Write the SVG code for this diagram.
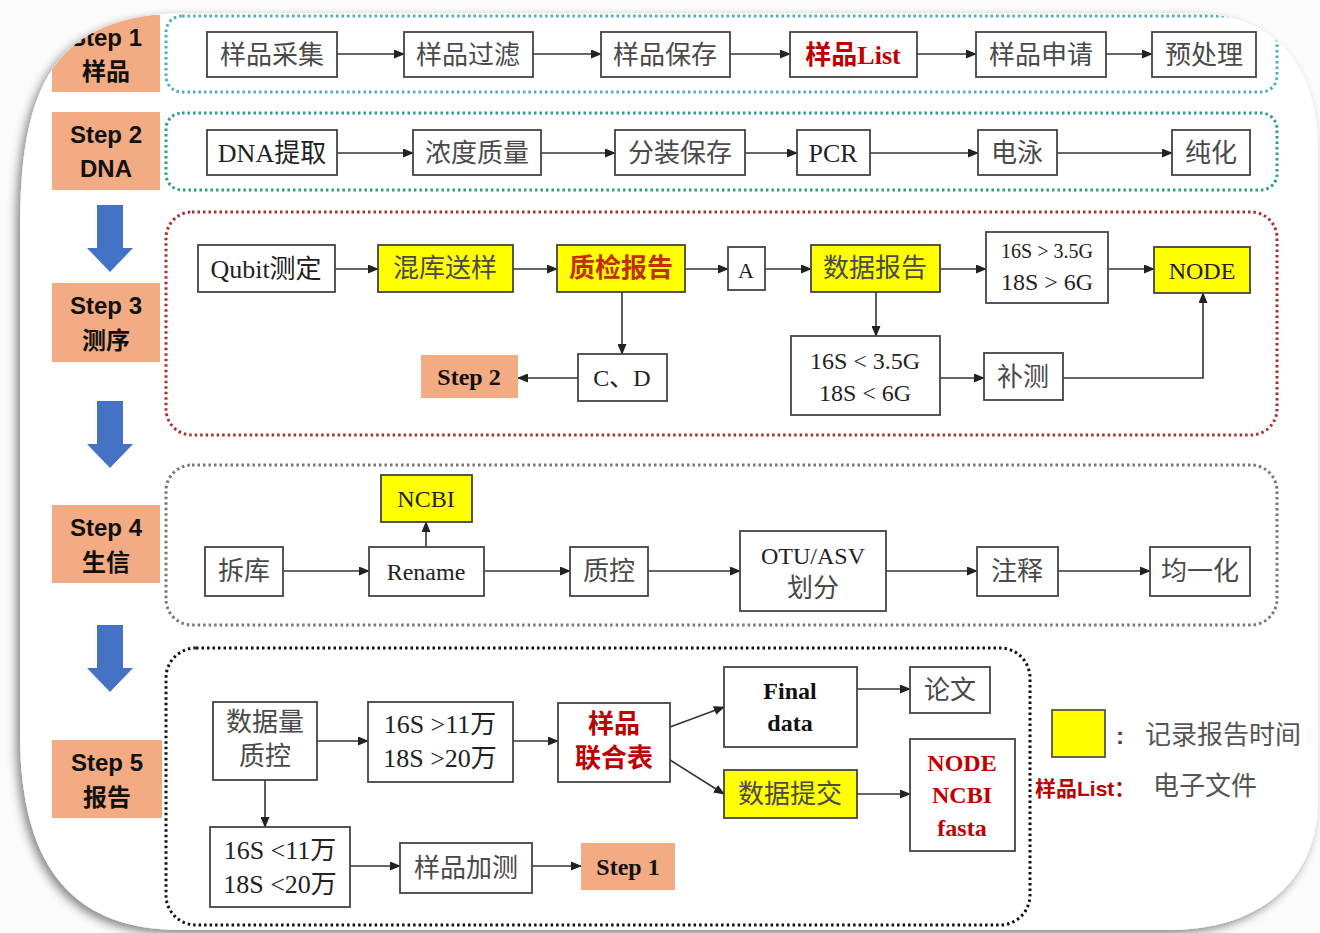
<svg xmlns="http://www.w3.org/2000/svg" width="1320" height="933" viewBox="0 0 1320 933">
<defs>
<style>
.bx{fill:#fff;stroke:#444;stroke-width:1.8}
.yl{fill:#ffff00;stroke:#444;stroke-width:1.8}
.og{fill:#f2ab83}
.t{font-family:"Liberation Serif","Noto Sans CJK SC",serif;font-size:26px;fill:#4a4a4a;text-anchor:middle}
.tl{font-family:"Liberation Serif","Noto Sans CJK SC",serif;font-size:26px;fill:#222;text-anchor:middle}
.tr{font-family:"Liberation Serif","Noto Sans CJK SC",serif;font-size:26px;fill:#c00000;font-weight:bold;text-anchor:middle}
.tb{font-family:"Liberation Serif","Noto Sans CJK SC",serif;font-size:24px;fill:#111;font-weight:bold;text-anchor:middle}
.st{font-family:"Liberation Sans","Noto Sans CJK SC",sans-serif;font-size:24px;fill:#111;font-weight:bold;text-anchor:middle}
.ln{fill:none;stroke:#333;stroke-width:1.6;marker-end:url(#ah)}
.cont{fill:none;stroke-width:3;stroke-dasharray:2.5 3}
.blue{fill:#4472c4}
</style>
<marker id="ah" markerUnits="userSpaceOnUse" markerWidth="11" markerHeight="9" refX="10" refY="4.5" orient="auto">
<path d="M0,0 L11,4.5 L0,9 z" fill="#222"/>
</marker>
<filter id="sh" x="-5%" y="-5%" width="110%" height="110%">
<feDropShadow dx="-4" dy="4" stdDeviation="5" flood-color="#000" flood-opacity="0.45"/>
</filter>
<clipPath id="card">
<path d="M190,13 H1190 C1270,13 1318,60 1318,150 V800 C1318,880 1260,930 1170,930 H180 C60,930 20,850 20,733 V230 C20,90 50,13 190,13 Z"/>
</clipPath>
</defs>
<rect width="1320" height="933" fill="#fbfbfb"/>
<path d="M190,13 H1190 C1270,13 1318,60 1318,150 V800 C1318,880 1260,930 1170,930 H180 C60,930 20,850 20,733 V230 C20,90 50,13 190,13 Z" fill="#fff" filter="url(#sh)"/>
<g clip-path="url(#card)">

<g id="labels">
<g id="step1"><rect class="og" x="52" y="15" width="108" height="77"/><text class="st" x="106" y="46">Step 1</text><text class="st" x="106" y="80">样品</text></g>
<g id="step2"><rect class="og" x="52" y="112" width="108" height="78"/><text class="st" x="106" y="143">Step 2</text><text class="st" x="106" y="177">DNA</text></g>
<g id="step3"><rect class="og" x="52" y="283" width="108" height="79"/><text class="st" x="106" y="314">Step 3</text><text class="st" x="106" y="349">测序</text></g>
<g id="step4"><rect class="og" x="52" y="505" width="108" height="78"/><text class="st" x="106" y="536">Step 4</text><text class="st" x="106" y="571">生信</text></g>
<g id="step5"><rect class="og" x="52" y="740" width="110" height="78"/><text class="st" x="107" y="771">Step 5</text><text class="st" x="107" y="806">报告</text></g>
<path class="blue" d="M97,205 H123 V248 H133 L110,272 L87,248 H97 Z"/>
<path class="blue" d="M97,401 H123 V444 H133 L110,468 L87,444 H97 Z"/>
<path class="blue" d="M97,625 H123 V668 H133 L110,692 L87,668 H97 Z"/>
</g>

<g id="containers">
<rect class="cont" x="166" y="16" width="1111" height="76" rx="16" stroke="#4aaec4"/>
<rect class="cont" x="166" y="113" width="1111" height="77" rx="16" stroke="#2a9f86"/>
<rect class="cont" x="166" y="212" width="1111" height="223" rx="26" stroke="#a8302e"/>
<rect class="cont" x="166" y="465" width="1111" height="160" rx="26" stroke="#777"/>
<rect class="cont" x="166" y="648" width="864" height="277" rx="30" stroke="#111"/>
</g>

<g id="connectors">
<line class="ln" x1="337" y1="54" x2="404" y2="54"/>
<line class="ln" x1="533" y1="54" x2="601" y2="54"/>
<line class="ln" x1="730" y1="54" x2="790" y2="54"/>
<line class="ln" x1="917" y1="54" x2="976" y2="54"/>
<line class="ln" x1="1106" y1="54" x2="1152" y2="54"/>
<line class="ln" x1="337" y1="153" x2="413" y2="153"/>
<line class="ln" x1="541" y1="153" x2="615" y2="153"/>
<line class="ln" x1="745" y1="153" x2="797" y2="153"/>
<line class="ln" x1="870" y1="153" x2="978" y2="153"/>
<line class="ln" x1="1057" y1="153" x2="1172" y2="153"/>
<line class="ln" x1="335" y1="269" x2="378" y2="269"/>
<line class="ln" x1="513" y1="269" x2="557" y2="269"/>
<line class="ln" x1="685" y1="269" x2="728" y2="269"/>
<line class="ln" x1="765" y1="269" x2="811" y2="269"/>
<line class="ln" x1="940" y1="269" x2="986" y2="269"/>
<line class="ln" x1="1108" y1="269" x2="1154" y2="269"/>
<line class="ln" x1="622" y1="292" x2="622" y2="354"/>
<line class="ln" x1="578" y1="378" x2="518" y2="378"/>
<line class="ln" x1="876" y1="292" x2="876" y2="336"/>
<line class="ln" x1="940" y1="378" x2="984" y2="378"/>
<path class="ln" d="M1063,378 H1203 V293"/>
<line class="ln" x1="283" y1="571" x2="369" y2="571"/>
<line class="ln" x1="484" y1="571" x2="570" y2="571"/>
<line class="ln" x1="648" y1="571" x2="740" y2="571"/>
<line class="ln" x1="886" y1="571" x2="977" y2="571"/>
<line class="ln" x1="1058" y1="571" x2="1150" y2="571"/>
<line class="ln" x1="426" y1="547" x2="426" y2="522"/>
<line class="ln" x1="317" y1="741" x2="368" y2="741"/>
<line class="ln" x1="513" y1="741" x2="558" y2="741"/>
<line class="ln" x1="670" y1="727" x2="724" y2="707"/>
<line class="ln" x1="670" y1="760" x2="724" y2="794"/>
<line class="ln" x1="857" y1="689" x2="910" y2="689"/>
<line class="ln" x1="857" y1="794" x2="910" y2="794"/>
<line class="ln" x1="265" y1="780" x2="265" y2="827"/>
<line class="ln" x1="350" y1="866" x2="400" y2="866"/>
<line class="ln" x1="532" y1="866" x2="581" y2="866"/>
</g>

<g id="n-s1-1"><rect class="bx" x="207" y="32" width="130" height="45"/><text class="t" x="272" y="64">样品采集</text></g>
<g id="n-s1-2"><rect class="bx" x="404" y="32" width="129" height="45"/><text class="t" x="468" y="64">样品过滤</text></g>
<g id="n-s1-3"><rect class="bx" x="601" y="32" width="129" height="45"/><text class="t" x="665" y="64">样品保存</text></g>
<g id="n-s1-4"><rect class="bx" x="790" y="32" width="127" height="45"/><text class="tr" x="853" y="64">样品List</text></g>
<g id="n-s1-5"><rect class="bx" x="976" y="32" width="130" height="45"/><text class="t" x="1041" y="64">样品申请</text></g>
<g id="n-s1-6"><rect class="bx" x="1152" y="32" width="104" height="45"/><text class="t" x="1204" y="64">预处理</text></g>

<g id="n-s2-1"><rect class="bx" x="207" y="130" width="130" height="45"/><text class="tl" x="272" y="162">DNA提取</text></g>
<g id="n-s2-2"><rect class="bx" x="413" y="130" width="128" height="45"/><text class="t" x="477" y="162">浓度质量</text></g>
<g id="n-s2-3"><rect class="bx" x="615" y="130" width="130" height="45"/><text class="t" x="680" y="162">分装保存</text></g>
<g id="n-s2-4"><rect class="bx" x="797" y="130" width="73" height="45"/><text class="tl" x="833" y="162">PCR</text></g>
<g id="n-s2-5"><rect class="bx" x="978" y="130" width="79" height="45"/><text class="t" x="1017" y="162">电泳</text></g>
<g id="n-s2-6"><rect class="bx" x="1172" y="130" width="78" height="45"/><text class="t" x="1211" y="162">纯化</text></g>

<g id="n-s3-qubit"><rect class="bx" x="198" y="245" width="137" height="47"/><text class="tl" x="266" y="278">Qubit测定</text></g>
<g id="n-s3-mix"><rect class="yl" x="378" y="245" width="135" height="47"/><text class="t" x="445" y="277">混库送样</text></g>
<g id="n-s3-qc"><rect class="yl" x="557" y="245" width="128" height="47"/><text class="t" x="621" y="277" style="fill:#c0300a;font-weight:bold">质检报告</text></g>
<g id="n-s3-a"><rect class="bx" x="728" y="247" width="37" height="43"/><text class="tl" x="746" y="278" style="font-size:22px">A</text></g>
<g id="n-s3-data"><rect class="yl" x="811" y="245" width="129" height="47"/><text class="t" x="875" y="277">数据报告</text></g>
<g id="n-s3-gt"><rect class="bx" x="986" y="232" width="122" height="71"/><text class="tl" x="1047" y="258" style="font-size:20px">16S &gt; 3.5G</text><text class="tl" x="1047" y="290" style="font-size:24px">18S &gt; 6G</text></g>
<g id="n-s3-node"><rect class="yl" x="1154" y="247" width="96" height="46"/><text class="tl" x="1202" y="279" style="font-size:24px">NODE</text></g>
<g id="n-s3-step2"><rect class="og" x="421" y="355" width="97" height="43"/><text class="tb" x="469" y="385">Step 2</text></g>
<g id="n-s3-cd"><rect class="bx" x="578" y="354" width="89" height="47"/><text class="tl" x="622" y="386" style="font-size:24px">C、D</text></g>
<g id="n-s3-lt"><rect class="bx" x="791" y="336" width="149" height="79"/><text class="tl" x="865" y="369" style="font-size:24px">16S &lt; 3.5G</text><text class="tl" x="865" y="401" style="font-size:24px">18S &lt; 6G</text></g>
<g id="n-s3-bc"><rect class="bx" x="984" y="353" width="79" height="47"/><text class="t" x="1023" y="386">补测</text></g>

<g id="n-s4-ncbi"><rect class="yl" x="381" y="475" width="91" height="47"/><text class="tl" x="426" y="507" style="font-size:24px">NCBI</text></g>
<g id="n-s4-cf"><rect class="bx" x="205" y="547" width="78" height="49"/><text class="t" x="244" y="580">拆库</text></g>
<g id="n-s4-rn"><rect class="bx" x="369" y="547" width="115" height="49"/><text class="tl" x="426" y="580" style="font-size:24px">Rename</text></g>
<g id="n-s4-qc"><rect class="bx" x="570" y="547" width="78" height="49"/><text class="t" x="609" y="580">质控</text></g>
<g id="n-s4-otu"><rect class="bx" x="740" y="531" width="146" height="80"/><text class="tl" x="813" y="564" style="font-size:24px">OTU/ASV</text><text class="t" x="813" y="597">划分</text></g>
<g id="n-s4-zs"><rect class="bx" x="977" y="547" width="81" height="49"/><text class="t" x="1017" y="580">注释</text></g>
<g id="n-s4-jy"><rect class="bx" x="1150" y="547" width="100" height="49"/><text class="t" x="1200" y="580">均一化</text></g>

<g id="n-s5-sjl"><rect class="bx" x="213" y="702" width="104" height="78"/><text class="t" x="265" y="731">数据量</text><text class="t" x="265" y="765">质控</text></g>
<g id="n-s5-gt"><rect class="bx" x="368" y="702" width="145" height="80"/><text class="tl" x="440" y="733">16S &gt;11万</text><text class="tl" x="440" y="767">18S &gt;20万</text></g>
<g id="n-s5-lhb"><rect class="bx" x="558" y="703" width="112" height="79"/><text class="tr" x="614" y="733">样品</text><text class="tr" x="614" y="767">联合表</text></g>
<g id="n-s5-final"><rect class="bx" x="724" y="667" width="133" height="80"/><text class="tb" x="790" y="699">Final</text><text class="tb" x="790" y="731">data</text></g>
<g id="n-s5-lw"><rect class="bx" x="910" y="667" width="80" height="46"/><text class="t" x="950" y="699">论文</text></g>
<g id="n-s5-tj"><rect class="yl" x="724" y="770" width="133" height="48"/><text class="t" x="790" y="803">数据提交</text></g>
<g id="n-s5-node"><rect class="bx" x="910" y="739" width="105" height="112"/><text class="tr" x="962" y="771" style="font-size:24px">NODE</text><text class="tr" x="962" y="803" style="font-size:24px">NCBI</text><text class="tr" x="962" y="836" style="font-size:24px">fasta</text></g>
<g id="n-s5-lt"><rect class="bx" x="210" y="827" width="140" height="80"/><text class="tl" x="280" y="859">16S &lt;11万</text><text class="tl" x="280" y="893">18S &lt;20万</text></g>
<g id="n-s5-jc"><rect class="bx" x="400" y="843" width="132" height="50"/><text class="t" x="466" y="877">样品加测</text></g>
<g id="n-s5-step1"><rect class="og" x="581" y="843" width="94" height="47"/><text class="tb" x="628" y="875">Step 1</text></g>

<g id="legend">
<rect x="1052" y="710" width="53" height="47" fill="#ffff00" stroke="#555" stroke-width="1.8"/>
<text x="1116" y="744" font-family="Liberation Sans,Noto Sans CJK SC,sans-serif" font-size="24" font-weight="bold" fill="#444">:</text>
<text x="1145" y="744" font-family="Liberation Serif,Noto Sans CJK SC,serif" font-size="26" fill="#555">记录报告时间</text>
<text x="1035" y="796" font-family="Liberation Sans,Noto Sans CJK SC,sans-serif" font-size="21" font-weight="bold" fill="#c00000">样品List：</text>
<text x="1153" y="795" font-family="Liberation Serif,Noto Sans CJK SC,serif" font-size="26" fill="#555">电子文件</text>
</g>
</g>
</svg>
